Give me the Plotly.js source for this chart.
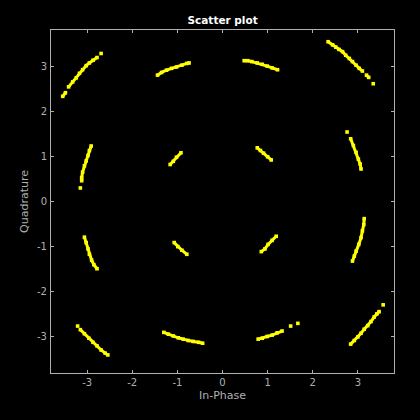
<!DOCTYPE html>
<html>
<head>
<meta charset="utf-8">
<script src="https://cdn.plot.ly/plotly-3.0.1.min.js"></script>
<style>html,body{margin:0;padding:0;background:#000;}</style>
</head>
<body>
<div id="chart" style="width:420px;height:420px;"></div>
<script>
// Received symbols (In-Phase / Quadrature); null separates arcs / stray points
const cornerI = [
  -3.54,-3.48,null,-3.41,-3.32,-3.24,-3.17,-3.10,-3.02,-2.95,-2.87,-2.78,null,-2.69,null,
  2.34,2.44,2.51,2.58,2.66,2.73,2.81,2.88,2.96,3.03,3.10,null,3.19,3.24,null,3.34,null,
  2.84,2.92,3.00,3.07,3.14,3.22,3.29,3.36,3.42,3.47,null,3.56,null,
  -3.21,null,-3.15,-3.06,-2.96,-2.87,-2.78,-2.69,-2.60,-2.54
];
const cornerQ = [
  2.33,2.41,null,2.54,2.65,2.74,2.84,2.92,3.01,3.07,3.13,3.19,null,3.28,null,
  3.54,3.47,3.42,3.37,3.32,3.24,3.17,3.10,3.02,2.95,2.89,null,2.80,2.75,null,2.61,null,
  -3.16,-3.08,-3.00,-2.92,-2.83,-2.75,-2.66,-2.56,-2.49,-2.44,null,-2.29,null,
  -2.76,null,-2.84,-2.93,-3.03,-3.12,-3.20,-3.29,-3.36,-3.40
];
const edgeI = [
  -1.44,-1.35,-1.24,-1.13,-1.02,-0.90,-0.79,-0.74,null,
  0.48,0.56,0.65,0.77,0.88,0.99,1.10,1.22,null,
  -2.91,-2.95,-2.98,-3.02,-3.06,-3.10,-3.12,-3.12,null,-3.15,null,
  2.76,null,2.84,2.90,2.96,3.01,3.05,3.07,null,
  3.14,3.13,3.10,3.07,3.02,2.96,2.92,2.88,null,
  -3.06,-3.02,-2.98,-2.95,-2.90,-2.85,-2.78,null,
  0.79,0.88,0.99,1.10,1.21,1.32,null,1.51,null,1.67,null,
  -1.30,-1.20,-1.09,-0.98,-0.87,-0.76,-0.65,-0.53,-0.44
];
const edgeQ = [
  2.80,2.86,2.91,2.95,2.98,3.02,3.06,3.07,null,
  3.12,3.12,3.10,3.07,3.04,3.00,2.96,2.92,null,
  1.23,1.13,1.02,0.90,0.79,0.65,0.53,0.46,null,0.30,null,
  1.54,null,1.39,1.24,1.09,0.94,0.83,0.72,null,
  -0.38,-0.51,-0.65,-0.80,-0.95,-1.10,-1.21,-1.32,null,
  -0.79,-0.91,-1.05,-1.17,-1.30,-1.40,-1.49,null,
  -3.05,-3.03,-2.99,-2.96,-2.91,-2.87,null,-2.76,null,-2.70,null,
  -2.90,-2.94,-2.98,-3.02,-3.05,-3.08,-3.10,-3.12,-3.14
];
const innerI = [
  -1.16,-1.09,-1.02,-0.92,null,
  0.77,0.84,0.91,1.00,1.08,null,
  0.86,0.94,1.01,1.10,1.19,null,
  -1.07,-0.99,-0.90,-0.79
];
const innerQ = [
  0.82,0.89,0.98,1.08,null,
  1.19,1.13,1.07,0.99,0.92,null,
  -1.11,-1.05,-0.95,-0.86,-0.77,null,
  -0.91,-1.00,-1.08,-1.17
];
const tickVals = [-3,-2,-1,0,1,2,3];
const tickText = ['-3','-2','-1','0','1','2','3'];

const allI = cornerI.concat([null], edgeI, [null], innerI);
const allQ = cornerQ.concat([null], edgeQ, [null], innerQ);

const trace = {
  x: allI, y: allQ,
  type: 'scatter', mode: 'lines+markers',
  connectgaps: false,
  line: {color: '#ffff00', width: 3},
  marker: {color: '#ffff00', size: 3.6, symbol: 'square'},
  hoverinfo: 'none'
};

const axisCommon = {
  range: [-3.8, 3.8],
  tickvals: tickVals, ticktext: tickText,
  showgrid: false, zeroline: false,
  showline: true, linecolor: '#b0b0b0', linewidth: 1,
  mirror: 'ticks', ticks: 'inside', ticklen: 3, tickcolor: '#b0b0b0',
  tickfont: {family: 'DejaVu Sans', size: 10, color: '#b0b0b0'}
};

const layout = {
  width: 420, height: 420, autosize: false,
  paper_bgcolor: '#000', plot_bgcolor: '#000',
  margin: {l: 51, r: 26, t: 30, b: 47},
  showlegend: false,
  title: {text: '<b>Scatter plot</b>', x: 0.53, xanchor: 'center', y: 0.951, yanchor: 'middle',
          font: {family: 'DejaVu Sans', size: 10.5, color: '#ffffff'}},
  xaxis: Object.assign({}, axisCommon, {
    title: {text: 'In-Phase', standoff: 4, font: {family: 'DejaVu Sans', size: 11, color: '#b0b0b0'}}
  }),
  yaxis: Object.assign({}, axisCommon, {
    ticklabelstandoff: 1,
    title: {text: 'Quadrature', standoff: 6, font: {family: 'DejaVu Sans', size: 11, color: '#b0b0b0'}}
  })
};

Plotly.newPlot('chart', [trace], layout, {displayModeBar: false, staticPlot: true});
</script>
</body>
</html>
